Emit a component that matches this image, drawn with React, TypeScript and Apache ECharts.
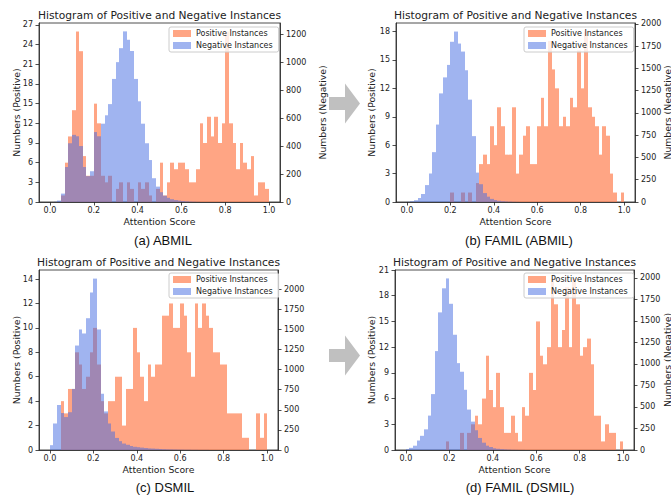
import React, { useEffect, useRef } from 'react';
import * as echarts from 'echarts';

const BIN_COUNT = 60;

// (a) ABMIL
const posA = [0,0,0,1,6,10,14,26,23,7, 4,4,15,12,4,3,4,0,2,3, 0,3,2,0,3,2,3,1,0,2, 6,1,3,6,5,6,6,5,3,3, 5,12,9,13,10,13,9,12,26,12, 9,5,9,6,5,7,1,3,3,2];
const negA = [0,2,10,60,250,420,480,470,400,250, 185,220,500,470,560,620,700,880,1000,1100, 1220,1160,1080,880,720,560,420,300,170,110, 70,45,30,20,14,10,7,5,3,2, 1,0,0,0,0,0,0,0,0,0, 0,0,0,0,0,0,0,0,0,0];
// (b) FAMIL (ABMIL)
const posB = [0,0,0,0,0,0,0,0,0,0, 0,0,1,0,0,1,0,1,0,2, 4,5,4,8,6,10,8,5,5,10, 3,5,7,8,4,4,8,11,8,17, 14,12,8,9,8,11,10,16,12,18, 10,9,8,5,8,7,3,1,0,1];
const negB = [2,8,20,45,90,190,320,560,870,1220, 1400,1540,1800,1915,1780,1690,1480,1150,740,330, 200,100,60,35,22,14,9,6,4,2, 1,0,0,0,0,0,0,0,0,0, 0,0,0,0,0,0,0,0,0,0, 0,0,0,0,0,0,0,0,0,0];
// (c) DSMIL
const posC = [0,0,0,4,3,5,5,8,7,5, 6,8,10,7,4,3,4,4,6,6, 2,5,5,10,8,6,4,7,6,7, 7,11,11,12,10,10,12,11,8,6, 12,10,12,11,10,8,8,7,7,3, 3,3,3,1,1,0,0,3,1,3];
const negC = [60,330,560,460,410,470,760,1300,1500,1450, 1640,1960,2133,1500,700,480,330,230,150,110, 80,65,50,40,35,30,25,20,18,15, 12,10,8,7,6,5,4,3,3,2, 2,1,1,1,0,0,0,0,0,0, 0,0,0,0,0,0,0,0,0,0];
// (d) FAMIL (DSMIL)
const posD = [0,0,0,0,0,0,0,0,0,0, 0,1,0,0,0,2,0,2,3,4, 3,6,11,7,5,9,5,2,2,4, 2,1,5,4,9,7,15,11,10,12, 20,17,12,14,19,12,20,17,11,12, 13,10,4,4,1,3,2,2,0,1];
const negD = [10,25,50,110,165,240,400,650,1150,1600, 1880,1995,1700,1340,1010,910,700,470,330,230, 140,85,50,35,20,14,10,7,5,3, 2,1,1,0,0,0,0,0,0,0, 0,0,0,0,0,0,0,0,0,0, 0,0,0,0,0,0,0,0,0,0];

const xTicks = [0, 0.2, 0.4, 0.6, 0.8, 1.0];
const posTicksA = [0, 3, 6, 9, 12, 15, 18, 21, 24, 27];
const negTicksA = [0, 200, 400, 600, 800, 1000, 1200];
const posTicksB = [0, 3, 6, 9, 12, 15, 18];
const negTicks2000 = [0, 250, 500, 750, 1000, 1250, 1500, 1750, 2000];
const posTicksC = [0, 2, 4, 6, 8, 10, 12, 14];
const posTicksD = [0, 3, 6, 9, 12, 15, 18, 21];

const captions = ['(a) ABMIL', '(b) FAMIL (ABMIL)', '(c) DSMIL', '(d) FAMIL (DSMIL)'];
const TITLE = 'Histogram of Positive and Negative Instances';
const POS_NAME = 'Positive Instances';
const NEG_NAME = 'Negative Instances';

const POS_COLOR = 'rgba(255,127,80,0.7)';
const NEG_COLOR = 'rgba(65,105,225,0.5)';
const INK = '#222';
const FONT = 'DejaVu Sans';

const panels = [
  { pos: posA, neg: negA, posMax: 27.3, negMax: 1280, posTicks: posTicksA, negTicks: negTicksA,
    grid: { left: 39, top: 23, width: 241, height: 179 }, legend: { left: 169, top: 27 },
    caption: { x: 163, y: 240 }, leftName: 16, rightName: 322 },
  { pos: posB, neg: negB, posMax: 18.9, negMax: 2011, posTicks: posTicksB, negTicks: negTicks2000,
    grid: { left: 396, top: 23, width: 239, height: 179 }, legend: { left: 524, top: 27 },
    caption: { x: 519, y: 240 }, leftName: 371, rightName: 667 },
  { pos: posC, neg: negC, posMax: 14.74, negMax: 2240, posTicks: posTicksC, negTicks: negTicks2000,
    grid: { left: 39, top: 270, width: 239, height: 180 }, legend: { left: 169, top: 273 },
    caption: { x: 165, y: 487 }, leftName: 16, rightName: null },
  { pos: posD, neg: negD, posMax: 21, negMax: 2093, posTicks: posTicksD, negTicks: negTicks2000,
    grid: { left: 395, top: 270, width: 239, height: 180 }, legend: { left: 524, top: 273 },
    caption: { x: 520, y: 487 }, leftName: 371, rightName: 667 },
];

const toBins = (counts: number[]) =>
  counts
    .map((c, i) => [i / BIN_COUNT, (i + 1) / BIN_COUNT, c])
    .filter((d) => d[2] > 0);

const makeRender = (color: string) => (params: any, api: any) => {
  const p0 = api.coord([api.value(0), api.value(2)]);
  const p1 = api.coord([api.value(1), 0]);
  const x0 = Math.round(p0[0]);
  const x1 = Math.round(p1[0]);
  return {
    type: 'rect',
    shape: { x: x0, y: p0[1], width: x1 - x0, height: p1[1] - p0[1] },
    style: { fill: color },
  };
};

const axisLine = { show: true, onZero: false, lineStyle: { color: INK, width: 0.8 } };
const tickStyle = (vals: number[]) => ({ show: true, length: 3.5, lineStyle: { color: INK, width: 0.8 }, customValues: vals });
const labelStyle = (vals: number[], margin: number, fmt: (v: number) => string) => ({
  customValues: vals, fontSize: 8, color: INK, fontFamily: FONT, margin, formatter: fmt,
});
const plain = (v: number) => String(v);

export default function App() {
  const ref = useRef<HTMLDivElement>(null);
  useEffect(() => {
    document.body.style.margin = '0';
    if (!ref.current) return;
    const chart = echarts.init(ref.current, null, { renderer: 'svg' });

    const grid: any[] = [];
    const xAxis: any[] = [];
    const yAxis: any[] = [];
    const series: any[] = [];
    const legend: any[] = [];
    const graphic: any[] = [];

    panels.forEach((p, i) => {
      grid.push({ ...p.grid, show: true, borderColor: INK, borderWidth: 0.8, containLabel: false });
      xAxis.push({
        type: 'value', gridIndex: i, min: -0.05, max: 1.05,
        axisLine, axisTick: tickStyle(xTicks),
        axisLabel: labelStyle(xTicks, 4, (v: number) => v.toFixed(1)),
        splitLine: { show: false },
      });
      yAxis.push({
        type: 'value', gridIndex: i, position: 'left', min: 0, max: p.posMax,
        axisLine, axisTick: tickStyle(p.posTicks),
        axisLabel: labelStyle(p.posTicks, 6, plain), splitLine: { show: false },
      });
      yAxis.push({
        type: 'value', gridIndex: i, position: 'right', min: 0, max: p.negMax,
        axisLine, axisTick: tickStyle(p.negTicks),
        axisLabel: labelStyle(p.negTicks, 6, plain), splitLine: { show: false },
      });
      series.push({
        type: 'custom', name: POS_NAME, xAxisIndex: i, yAxisIndex: 2 * i,
        renderItem: makeRender(POS_COLOR), itemStyle: { color: POS_COLOR },
        encode: { x: [0, 1], y: 2 }, data: toBins(p.pos), z: 2,
      });
      series.push({
        type: 'custom', name: NEG_NAME, xAxisIndex: i, yAxisIndex: 2 * i + 1,
        renderItem: makeRender(NEG_COLOR), itemStyle: { color: NEG_COLOR },
        encode: { x: [0, 1], y: 2 }, data: toBins(p.neg), z: 3,
      });
      legend.push({
        orient: 'vertical', left: p.legend.left, top: p.legend.top,
        data: [POS_NAME, NEG_NAME], icon: 'rect', itemWidth: 18, itemHeight: 7, itemGap: 3,
        padding: [2, 6, 2, 4], backgroundColor: 'rgba(255,255,255,0.8)',
        borderColor: '#cccccc', borderWidth: 1, borderRadius: 2, selectedMode: false,
        textStyle: { fontSize: 8, color: INK, fontFamily: FONT, lineHeight: 9 },
      });
      const cx = p.grid.left + p.grid.width / 2;
      const cy = p.grid.top + p.grid.height / 2;
      graphic.push({
        type: 'text', x: cx, y: p.grid.top - 8,
        style: { text: TITLE, fontSize: 10.7, fontFamily: FONT, fill: INK, align: 'center', verticalAlign: 'middle' },
      });
      graphic.push({
        type: 'text', x: cx, y: p.grid.top + p.grid.height + 19,
        style: { text: 'Attention Score', fontSize: 9.3, fontFamily: FONT, fill: INK, align: 'center', verticalAlign: 'middle' },
      });
      graphic.push({
        type: 'text', x: p.leftName, y: cy, rotation: Math.PI / 2,
        style: { text: 'Numbers (Positive)', fontSize: 9.3, fontFamily: FONT, fill: INK, align: 'center', verticalAlign: 'middle' },
      });
      if (p.rightName !== null) {
        graphic.push({
          type: 'text', x: p.rightName, y: cy, rotation: Math.PI / 2,
          style: { text: 'Numbers (Negative)', fontSize: 9.3, fontFamily: FONT, fill: INK, align: 'center', verticalAlign: 'middle' },
        });
      }
      graphic.push({
        type: 'text', x: p.caption.x, y: p.caption.y,
        style: { text: captions[i], fontSize: 13, fontFamily: 'Liberation Sans', fill: '#111', align: 'center', verticalAlign: 'middle' },
      });
    });

    const arrow = (cy: number) => ({
      type: 'polygon',
      shape: { points: [[329, cy - 6.5], [345, cy - 6.5], [345, cy - 20], [360, cy], [345, cy + 20], [345, cy + 6.5], [329, cy + 6.5]] },
      style: { fill: '#c0c0c0' },
    });
    graphic.push(arrow(103.5));
    graphic.push(arrow(355.5));

    chart.setOption({
      animation: false,
      backgroundColor: '#fff',
      grid, xAxis, yAxis, series, legend, graphic,
    });
    return () => chart.dispose();
  }, []);
  return <div ref={ref} style={{ width: 671, height: 498 }} />;
}
